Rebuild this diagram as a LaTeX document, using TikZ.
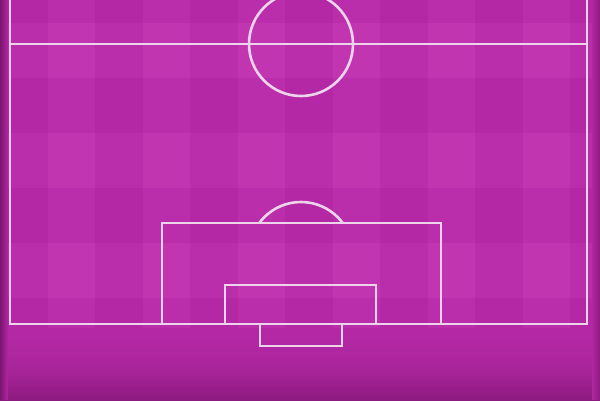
\documentclass[tikz,border=0pt]{standalone}
\definecolor{pitch}{RGB}{180,40,165}
\definecolor{pitchlight}{RGB}{186,46,171}
\definecolor{pitchlighter}{RGB}{193,53,177}
\definecolor{chalk}{RGB}{238,212,234}
\definecolor{shade}{RGB}{90,10,80}
\tikzset{
  line/.style={draw=chalk, line width=2.6pt},
}
\begin{document}
\begin{tikzpicture}[x=1pt,y=-1pt]
\useasboundingbox (0,0) rectangle (600,400);
\fill[pitch] (0,0) rectangle (600,400);
% plaid stripes
\foreach \i in {1,3,5,7,9,11}{
  \fill[pitchlight] ({\i*47.5},0) rectangle ({\i*47.5+47.5},400);
}
\foreach \j in {0,2,4,6}{
  \fill[pitchlight] (0,{\j*55+23}) rectangle (600,{\j*55+78});
  \foreach \i in {1,3,5,7,9,11}{
    \fill[pitchlighter] ({\i*47.5},{\j*55+23}) rectangle ({\i*47.5+47.5},{\j*55+78});
  }
}
% bottom vignette
\foreach \k in {0,...,36}{
  \pgfmathtruncatemacro{\p}{round(0.035*\k*\k)}
  \fill[shade!\p!pitch] (0,{328+2*\k}) rectangle (600,{330.5+2*\k});
}
% side vignettes
\foreach \k in {0,...,7}{
  \pgfmathtruncatemacro{\p}{8*(8-\k)}
  \pgfmathtruncatemacro{\q}{5*(8-\k)}
  \fill[shade!\p!pitch] ({\k},0) rectangle ({\k+1.2},400);
  \fill[shade!\q!pitch] ({598.8-\k},0) rectangle ({600-\k},400);
}
% markings
\coordinate (tl) at (10,-2);
\coordinate (bl) at (10,324);
\coordinate (br) at (587,324);
\coordinate (tr) at (587,-2);
\draw[line] (tl) -- (bl) -- (br) -- (tr);
\coordinate (hl) at (10,44);
\coordinate (hr) at (587,44);
\draw[line] (hl) -- (hr);
\coordinate (cc) at (301,44);
\draw[line] (cc) circle[radius=52];
% penalty area
\draw[line] (162,324) |- (441,223) -- (441,324);
% goal area
\draw[line] (225,324) |- (376,285) -- (376,324);
% goal
\draw[line] (260,324) |- (342,346) -- (342,324);
% penalty arc
\coordinate (spot) at (301,254);
\begin{scope}
  \clip (0,0) rectangle (600,223);
  \draw[line] (spot) circle[radius=52];
\end{scope}
\end{tikzpicture}
\end{document}
